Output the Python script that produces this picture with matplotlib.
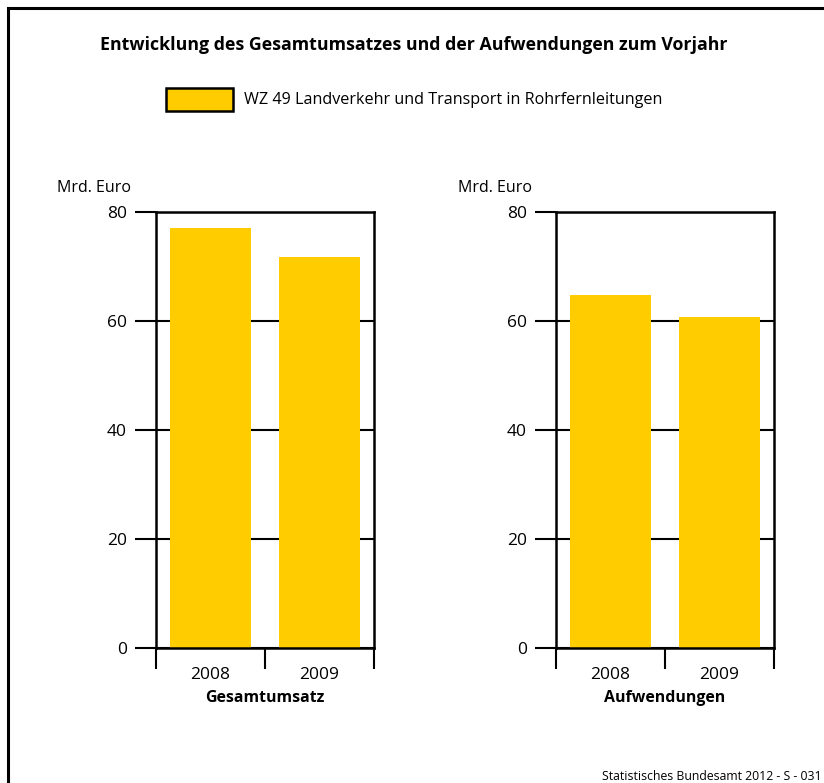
import matplotlib.pyplot as plt
from matplotlib.patches import Rectangle

years = ['2008', '2009']
umsatz = [77.1, 71.7]
aufwendungen = [64.8, 60.7]
panel_labels = ['Gesamtumsatz', 'Aufwendungen']
yticks = [0, 20, 40, 60, 80]
legend_label = 'WZ 49 Landverkehr und Transport in Rohrfernleitungen'
title = 'Entwicklung des Gesamtumsatzes und der Aufwendungen zum Vorjahr'
source = 'Statistisches Bundesamt 2012 - S - 031'

yellow = '#ffcc00'
plt.rcParams['font.family'] = ['Open Sans', 'DejaVu Sans']

fig = plt.figure(figsize=(8.24, 7.83), dpi=100)

# outer frame (cut at right/bottom like the original)
fig.patches.append(Rectangle((8 / 824, -0.1), 1.2, 1 - 8 / 783 + 0.1,
                             transform=fig.transFigure, fill=False,
                             edgecolor='black', linewidth=2.2))

fig.text(0.502, 1 - 45 / 783, title, ha='center', va='center',
         fontsize=12.8, fontweight='bold')

# legend
fig.patches.append(Rectangle((166 / 824, 1 - 111 / 783), 67 / 824, 23 / 783,
                             transform=fig.transFigure, facecolor=yellow,
                             edgecolor='black', linewidth=1.8))
fig.text(244 / 824, 1 - 100 / 783, legend_label, ha='left', va='center',
         fontsize=11.6)

for i, (vals, lab) in enumerate(zip([umsatz, aufwendungen], panel_labels)):
    x0 = [156, 556][i] / 824
    ax = fig.add_axes([x0, 1 - 648 / 783, 218 / 824, 436 / 783])
    ax.bar([0, 1], vals, width=0.75, color=yellow, zorder=2)
    ax.set_xlim(-0.5, 1.5)
    ax.set_ylim(0, 80)
    ax.set_yticks(yticks)
    ax.yaxis.grid(True, color='black', linewidth=1.5, zorder=1)
    ax.set_axisbelow(True)
    ax.set_xticks([-0.5, 0.5, 1.5])
    ax.set_xticklabels([])
    ax.set_xticks([0, 1], minor=True)
    ax.set_xticklabels(years, minor=True, fontsize=12.5)
    ax.tick_params(axis='x', which='minor', length=0, pad=14)
    ax.tick_params(axis='x', which='major', length=15, width=1.5, direction='out')
    ax.tick_params(axis='y', length=15, width=1.5, labelsize=12.5, pad=6)
    for s in ax.spines.values():
        s.set_linewidth(1.8)
    ax.set_xlabel(lab, fontsize=11.4, fontweight='bold', labelpad=5)
    fig.text([57, 458][i] / 824, 1 - 188 / 783, 'Mrd. Euro', ha='left',
             va='center', fontsize=11.5)

fig.text(822 / 824, 1 - 777 / 783, source, ha='right', va='center', fontsize=8.8)

fig.savefig('out.png', dpi=100)
